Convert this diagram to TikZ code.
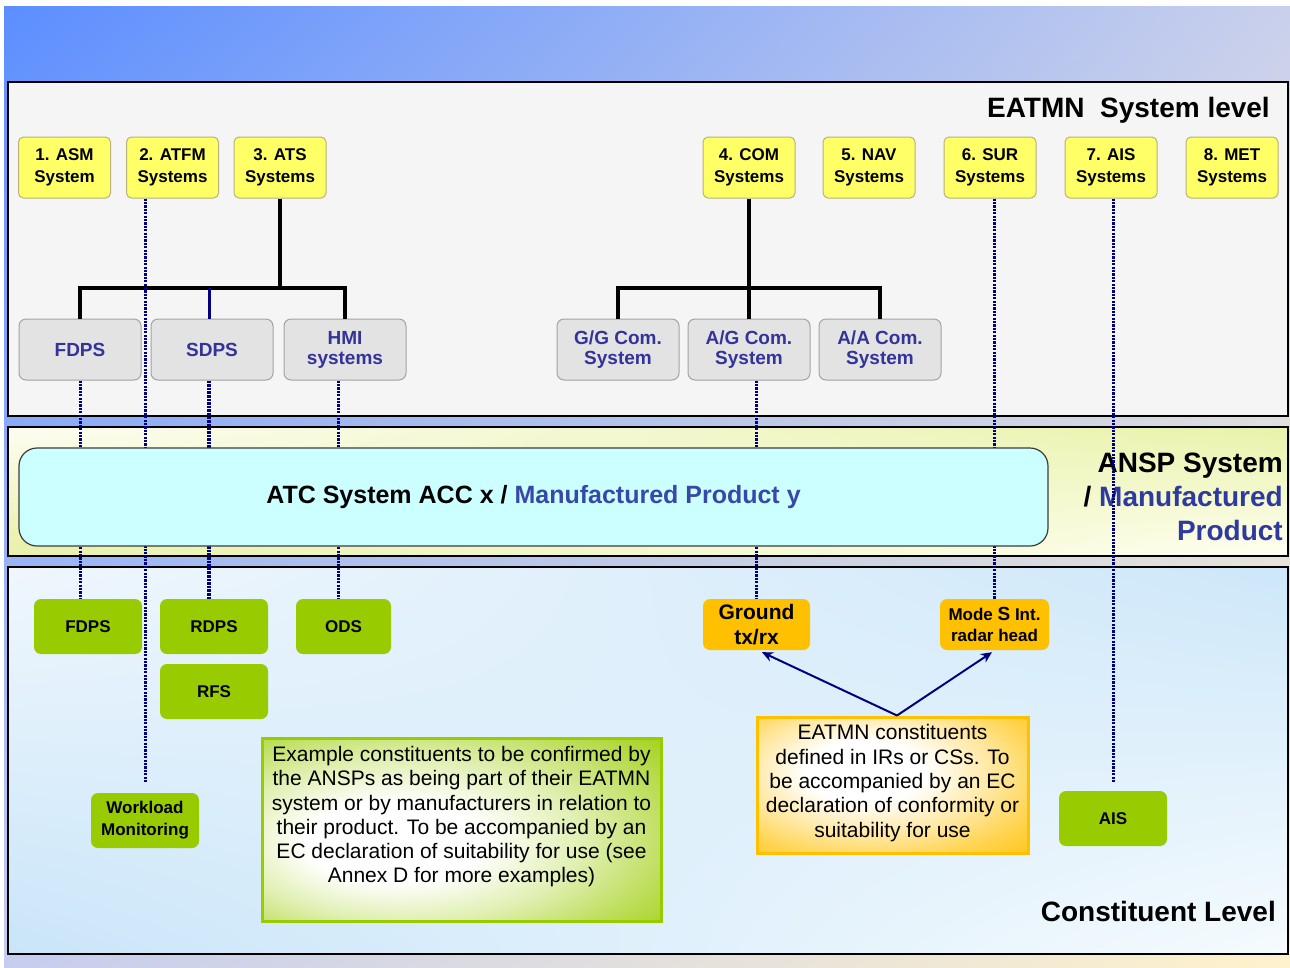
\documentclass[tikz,border=0pt]{standalone}
\usepackage{fontspec}
\setmainfont{Liberation Sans}
\usetikzlibrary{arrows.meta,shadings}

\definecolor{navyline}{HTML}{000080}
\definecolor{boxyellow}{HTML}{FFFF66}
\definecolor{yellowedge}{HTML}{B8B27A}
\definecolor{subgray}{HTML}{E3E3E3}
\definecolor{subedge}{HTML}{A3A3A3}
\definecolor{subtext}{HTML}{333399}
\definecolor{constgreen}{HTML}{99CC00}
\definecolor{constorange}{HTML}{FFC000}
\definecolor{atcfill}{HTML}{CCFFFF}
\definecolor{atcedge}{HTML}{3C3C3C}
\definecolor{prodblue}{HTML}{3848A8}
\definecolor{labelblue}{HTML}{2E3A9E}
\definecolor{panelgray}{HTML}{F5F5F5}
% backdrop corners
\definecolor{bgul}{HTML}{5B8EFF}
\definecolor{bgur}{HTML}{C9D0EC}
\definecolor{bgll}{HTML}{C6CDEE}
\definecolor{bglr}{HTML}{FFF2CC}
% ANSP band corners
\definecolor{anul}{HTML}{FDFDF2}
\definecolor{anur}{HTML}{E8F2A8}
\definecolor{anll}{HTML}{E8F0A8}
\definecolor{anlr}{HTML}{FFFFF2}
% constituent band corners
\definecolor{coul}{HTML}{F0F7FD}
\definecolor{cour}{HTML}{CDE7F9}
\definecolor{coll}{HTML}{C9E5F9}
\definecolor{colr}{HTML}{F6FBFE}

% soft glow fills for the two callouts
\pgfdeclareradialshading{orangeglow}{\pgfpoint{-6bp}{6bp}}{%
  color(0bp)=(white); color(11bp)=(white); color(22bp)=(constorange!35);
  color(32bp)=(constorange!70); color(44bp)=(constorange); color(72bp)=(constorange)}
\pgfdeclareradialshading{greenglow}{\pgfpoint{-10bp}{-4bp}}{%
  color(0bp)=(white); color(11bp)=(white); color(22bp)=(constgreen!30);
  color(32bp)=(constgreen!65); color(44bp)=(constgreen); color(72bp)=(constgreen)}

\tikzset{
  sysbox/.style={draw=yellowedge, line width=1pt, fill=boxyellow, rounded corners=5pt,
    minimum width=92pt, minimum height=61pt, align=center, inner sep=0pt,
    font=\fontsize{17}{22}\selectfont\bfseries},
  subbox/.style={draw=subedge, line width=1pt, fill=subgray, rounded corners=7pt,
    minimum width=122pt, minimum height=61pt, align=center, inner sep=0pt, text=subtext,
    font=\fontsize{19}{20}\selectfont\bfseries},
  constbox/.style={fill=constgreen, rounded corners=7pt, minimum width=108pt,
    minimum height=55pt, align=center, inner sep=0pt,
    font=\fontsize{17}{22}\selectfont\bfseries},
  orangebox/.style={fill=constorange, rounded corners=7pt, minimum height=51pt,
    align=center, inner sep=0pt},
  tree/.style={draw=black, line width=4pt},
  link/.style={draw=navyline, line width=3pt, dash pattern=on 2.2pt off 1.2pt},
  pointer/.style={draw=navyline, line width=2pt, -{Stealth[length=11pt,width=10pt]}},
  panel/.style={draw=black, line width=2.5pt},
  levellabel/.style={inner sep=0pt, font=\fontsize{28}{34}\selectfont\bfseries},
  notetext/.style={align=center, inner sep=0pt, font=\fontsize{21}{24.3}\selectfont},
}

\begin{document}
\begin{tikzpicture}[x=1pt, y=-1pt]
\useasboundingbox (0,0) rectangle (1290,967);
\fill[white] (0,0) rectangle (1290,967);
% page backdrop
\shade[upper left=bgul, upper right=bgur, lower left=bgll, lower right=bglr]
  (4,6) rectangle (1290,967);

% three level panels
\fill[panelgray] (8,82) rectangle (1288,416);
\shade[upper left=anul, upper right=anur, lower left=anll, lower right=anlr]
  (8,427) rectangle (1288,556);
\shade[upper left=coul, upper right=cour, lower left=coll, lower right=colr]
  (8,567) rectangle (1288,954);
\draw[panel] (8,82) rectangle (1288,416);
\draw[panel] (8,427) rectangle (1288,556);
\draw[panel] (8,567) rectangle (1288,954);

% level captions
\node[levellabel, anchor=base east] (lvlsys) at (1270,117) {EATMN\ \ System level};
\node[levellabel, anchor=base east] (lvlcon) at (1276,921) {Constituent Level};
\node[levellabel, anchor=east, align=right] (lvlansp) at (1283,497)
  {ANSP System\\/ \textcolor{labelblue}{Manufactured}\\\textcolor{labelblue}{Product}};

% EATMN systems
\node[sysbox] (asm)  at (64.5,167.5) {1. ASM\\System};
\node[sysbox] (atfm) at (172.5,167.5) {2. ATFM\\Systems};
\node[sysbox] (ats)  at (280,167.5) {3. ATS\\Systems};
\node[sysbox] (com)  at (749,167.5) {4. COM\\Systems};
\node[sysbox] (nav)  at (869,167.5) {5. NAV\\Systems};
\node[sysbox] (sur)  at (990,167.5) {6. SUR\\Systems};
\node[sysbox] (aiss) at (1111,167.5) {7. AIS\\Systems};
\node[sysbox] (met)  at (1232,167.5) {8. MET\\Systems};

% sub-systems
\node[subbox] (gfdps) at (80,349.5) {FDPS};
\node[subbox] (gsdps) at (212,349.5) {SDPS};
\node[subbox] (ghmi)  at (345,349.5) {HMI\\systems};
\node[subbox] (ggc)   at (618,349.5) {G/G Com.\\System};
\node[subbox] (agc)   at (749,349.5) {A/G Com.\\System};
\node[subbox] (aac)   at (880,349.5) {A/A Com.\\System};

% constituents
\node[constbox] (cfdps) at (88,626.5) {FDPS};
\node[constbox] (rdps)  at (214,626.5) {RDPS};
\node[constbox] (rfs)   at (214,691.5) {RFS};
\node[constbox, minimum width=95pt] (ods) at (343.5,626.5) {ODS};
\node[constbox] (wm)    at (145,820.5) {Workload\\Monitoring};
\node[constbox] (aisc)  at (1113,818.5) {AIS};
\node[orangebox, minimum width=107pt, font=\fontsize{21}{25}\selectfont\bfseries]
  (ground) at (756.5,624.5) {Ground\\tx/rx};
\node[orangebox, minimum width=109pt, font=\fontsize{17}{21}\selectfont\bfseries]
  (modes) at (994.5,624.5) {Mode {\fontsize{19}{21}\selectfont S} Int.\\radar head};

% hierarchy trees
\coordinate (atsbar) at (280,288);
\coordinate (combar) at (749,288);
\draw[tree] (ats.south) -- (atsbar);
\draw[tree] (gfdps.north) |- (atsbar) -| (ghmi.north);
\draw[draw=navyline, line width=3pt] ([xshift=-3pt]gsdps.north) -- ([xshift=-3pt]gsdps.north |- atsbar);
\draw[tree] (com.south) -- (combar);
\draw[tree] (ggc.north) |- (combar) -| (aac.north);
\draw[tree] (agc.north) -- (combar);

% dotted allocation links
\draw[link] (gfdps.south) -- (gfdps.south |- cfdps.north);
\draw[link, shorten >=10pt] (wm.north |- atfm.south) -- (wm.north);
\draw[link, line width=4pt, dash pattern=on 2.6pt off 1pt]
  ([xshift=-3pt]gsdps.south) -- ([xshift=-3pt]gsdps.south |- rdps.north);
\draw[link] ([xshift=-7pt]ghmi.south) -- ([xshift=-7pt]ghmi.south |- ods.north);
\draw[link] (ground.north |- agc.south) -- (ground.north);
\draw[link] (modes.north |- sur.south) -- (modes.north);
\draw[link, shorten >=9pt] (aisc.north |- aiss.south) -- (aisc.north);

% ANSP system / product box
\node[draw=atcedge, line width=1.2pt, fill=atcfill,
      rounded corners=18pt, minimum width=1029pt, minimum height=98pt, inner sep=0pt,
      font=\fontsize{25}{28}\selectfont\bfseries] (atc) at (533.5,497)
  {ATC System ACC x / \textcolor{prodblue}{Manufactured Product y}};

% callouts
\node[shade, shading=greenglow, draw=constgreen, line width=3pt,
      minimum width=399pt, minimum height=183pt, inner sep=0pt] (exc) at (461.5,829.5) {};
\node[notetext, anchor=north] (exctext) at (461.5,746)
  {Example constituents to be confirmed by\\the ANSPs as being part of their EATMN\\system or by manufacturers in relation to\\their product. To be accompanied by an\\EC declaration of suitability for use (see\\Annex D for more examples)};
\node[shade, shading=orangeglow, draw=constorange, line width=3pt,
      minimum width=271pt, minimum height=136pt, inner sep=0pt] (eatc) at (892.5,785) {};
\node[notetext] (eattext) at (892.5,783)
  {EATMN constituents\\defined in IRs or CSs. To\\be accompanied by an EC\\declaration of conformity or\\suitability for use};

\draw[pointer] ([xshift=4.5pt]eatc.north) -- ([xshift=5.5pt,yshift=-2pt]ground.south);
\draw[pointer] ([xshift=4.5pt]eatc.north) -- ([xshift=-2.5pt,yshift=-2pt]modes.south);
\end{tikzpicture}
\end{document}
